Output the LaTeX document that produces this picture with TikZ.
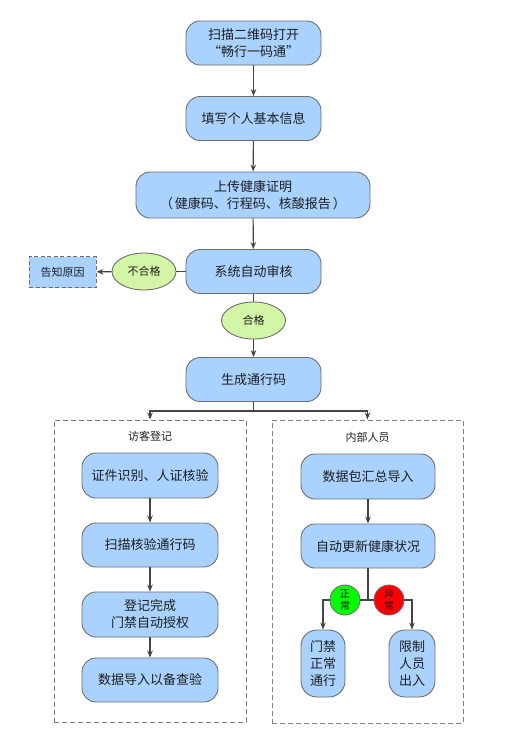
\documentclass[tikz,border=0pt]{standalone}
\usepackage{fontspec}
\setmainfont{Noto Sans CJK SC}
\usetikzlibrary{arrows.meta,shapes.geometric}
\definecolor{boxblue}{HTML}{A9D2FF}
\definecolor{okgreen}{HTML}{D3F5A6}
\definecolor{linegray}{HTML}{6E6E6E}
\definecolor{arrgray}{HTML}{444444}
\definecolor{textc}{HTML}{1E1E1E}
\definecolor{dashgray}{HTML}{808080}
\begin{document}
\begin{tikzpicture}[x=1pt,y=-1pt,
  proc/.style={draw=linegray, fill=boxblue, rounded corners=14pt, line width=0.9pt,
    minimum width=135pt, minimum height=44pt, align=center, inner sep=0pt,
    text=textc, font=\fontsize{13}{17}\selectfont},
  tallbox/.style={proc, rounded corners=16pt, minimum width=45pt, minimum height=67pt},
  note/.style={draw=linegray, fill=boxblue, dashed, dash pattern=on 4pt off 2.5pt, line width=0.9pt,
    minimum width=67pt, minimum height=31pt, inner sep=0pt, text=textc,
    font=\fontsize{11}{13}\selectfont},
  ell/.style={ellipse, draw=linegray, fill=okgreen, line width=0.9pt,
    minimum width=64pt, minimum height=37pt, inner sep=0pt, text=textc,
    font=\fontsize{11}{13}\selectfont},
  dot/.style={circle, draw=linegray, line width=0.9pt, minimum size=30pt, inner sep=0pt,
    align=center, text=textc, font=\fontsize{10}{12.5}\selectfont},
  panel/.style={draw=dashgray, dashed, dash pattern=on 5pt off 3pt, line width=1pt, inner sep=0pt},
  plabel/.style={text=textc, font=\fontsize{11}{13}\selectfont, inner sep=0pt},
  arr/.style={draw=arrgray, line width=1.1pt, -{Stealth[length=7pt,width=5.5pt]}},
  ln/.style={draw=arrgray, line width=1.1pt}
]
\useasboundingbox (0,0) rectangle (504,736);

% main column
\node[proc] (b1) at (253.5,43) {扫描二维码打开\\“畅行一码通”};
\node[proc] (b2) at (253.5,118.5) {填写个人基本信息};
\node[proc, minimum width=234pt, minimum height=46pt] (b3) at (253,195) {上传健康证明\\（\hspace{2pt}健康码、行程码、核酸报告\hspace{2pt}）};
\node[proc] (b4) at (253.5,271.5) {系统自动审核};
\node[ell] (no) at (144,271.5) {不合格};
\node[note] (why) at (62.5,272) {告知原因};
\node[ell] (ok) at (253.5,320.5) {合格};
\node[proc] (b5) at (253.5,379.5) {生成通行码};

\draw[arr] (b1) -- (b2);
\draw[arr] (b2) -- (b3);
\draw[arr] (b3) -- (b4);
\draw[ln] (b4) -- (no);
\draw[arr] (no) -- (why);
\draw[ln] (b4) -- (ok);
\draw[arr] (ok) -- (b5);

% panels
\node[panel, minimum width=192pt, minimum height=302pt] (lp) at (150,571) {};
\node[panel, minimum width=191pt, minimum height=303pt] (rp) at (367.5,571.5) {};
\node[plabel] (lpl) at (150,436.5) {访客登记};
\node[plabel] (rpl) at (367.5,437) {内部人员};

\coordinate (split) at (253.5,411);
\draw[ln] (b5) -- (split);
\draw[arr] (split) -| (lp.north);
\draw[arr] (split) -| (rp.north);

% left panel
\node[proc, minimum width=136pt, minimum height=45pt] (l1) at (150,475.5) {证件识别、人证核验};
\node[proc, minimum width=136pt] (l2) at (150,545) {扫描核验通行码};
\node[proc, minimum width=136pt, minimum height=45pt] (l3) at (150,614.5) {登记完成\\门禁自动授权};
\node[proc, minimum width=136pt] (l4) at (150,680) {数据导入以备查验};
\draw[arr] (l1) -- (l2);
\draw[arr] (l2) -- (l3);
\draw[arr] (l3) -- (l4);

% right panel
\node[proc, minimum width=134pt, minimum height=45pt] (r1) at (368,476.5) {数据包汇总导入};
\node[proc, minimum width=134pt] (r2) at (368,546) {自动更新健康状况};
\draw[arr] (r1) -- (r2);

\node[dot, fill=green] (g) at (345,600) {正\\常};
\node[dot, fill=red] (r) at (389,600) {异\\常};
\node[tallbox, minimum width=44pt] (m1) at (323,663.5) {门禁\\正常\\通行};
\node[tallbox, minimum width=46pt] (m2) at (412,663.5) {限制\\人员\\出入};

\coordinate (trunk) at (368,600);
\draw[ln] (r2.south) -- (trunk);
\draw[ln] (trunk) -- (g.east);
\draw[ln] (trunk) -- (r.west);
\draw[arr] (g.west) -| (m1.north);
\draw[arr] (r.east) -| (m2.north);
\end{tikzpicture}
\end{document}
